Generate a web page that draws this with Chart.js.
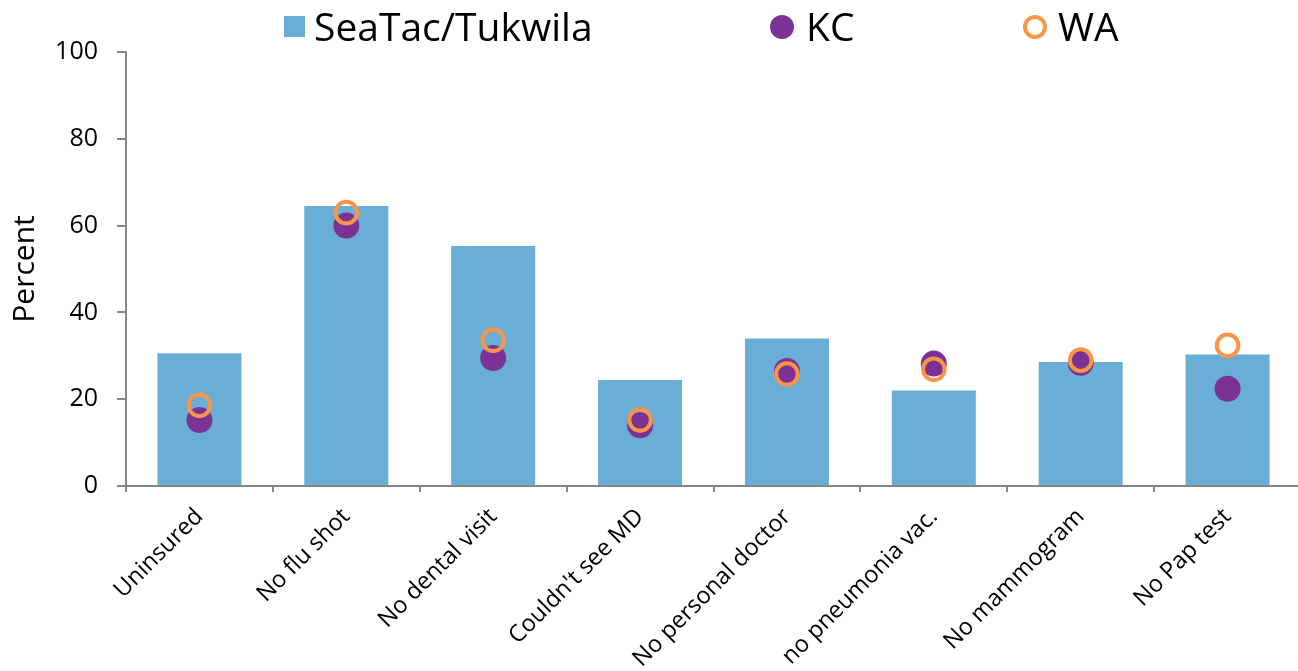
<!DOCTYPE html>
<html lang="en">
<head>
<meta charset="UTF-8">
<title>SeaTac/Tukwila vs KC vs WA</title>
<script src="https://cdn.jsdelivr.net/npm/chart.js"></script>
<style>
  html, body { margin: 0; padding: 0; background: #fff; overflow: hidden; }
  #wrap { position: relative; width: 1301px; height: 671px; }
  .leg { position: absolute; font-family: "Open Sans", sans-serif; font-size: 39px; line-height: 39px; color: #000; white-space: nowrap; }
  .mk { position: absolute; box-sizing: border-box; }
</style>
</head>
<body>
<div id="wrap">
  <div class="mk" style="left:284px;top:16px;width:21px;height:21px;background:#6aaed6;"></div>
  <div class="leg" style="left:314px;top:6px;">SeaTac/Tukwila</div>
  <div class="mk" style="left:770px;top:15px;width:24px;height:24px;border-radius:50%;background:#7b3294;"></div>
  <div class="leg" style="left:806px;top:6px;">KC</div>
  <div class="mk" style="left:1023px;top:15px;width:24px;height:24px;border-radius:50%;border:4px solid #f79646;"></div>
  <div class="leg" style="left:1058px;top:6px;">WA</div>
  <canvas id="grafico" width="1301" height="671"></canvas>
</div>

<script>
  const categorias = ['Uninsured', 'No flu shot', 'No dental visit', "Couldn't see MD",
    'No personal doctor', 'no pneumonia vac.', 'No mammogram', 'No Pap test'];
  const seatac = [30.6, 64.5, 55.3, 24.4, 34.0, 22.0, 28.6, 30.3];
  const kc = [15.2, 60.0, 29.5, 14.0, 26.5, 28.2, 28.4, 22.4];
  const wa = [18.6, 63.0, 33.6, 15.2, 25.8, 26.9, 29.0, 32.4];
  const ticksY = [0, 20, 40, 60, 80, 100];

  const gris = '#868686';

  const ctx = document.getElementById('grafico').getContext('2d');
  new Chart(ctx, {
    data: {
      labels: categorias,
      datasets: [
        {
          type: 'line',
          label: 'WA',
          data: wa,
          showLine: false,
          pointRadius: 10.8,
          pointBorderWidth: 4,
          pointBorderColor: '#f79646',
          pointBackgroundColor: 'rgba(0,0,0,0)',
          order: 1
        },
        {
          type: 'line',
          label: 'KC',
          data: kc,
          showLine: false,
          pointRadius: 13,
          pointBorderWidth: 0,
          pointBackgroundColor: '#7b3294',
          order: 2
        },
        {
          type: 'bar',
          label: 'SeaTac/Tukwila',
          data: seatac,
          backgroundColor: '#6aaed6',
          categoryPercentage: 1,
          barPercentage: 0.572,
          order: 3
        }
      ]
    },
    options: {
      responsive: false,
      animation: false,
      layout: { autoPadding: false, padding: { top: 52, left: 0, right: 0, bottom: 0 } },
      plugins: {
        legend: { display: false },
        tooltip: { enabled: false }
      },
      scales: {
        x: {
          afterFit: (s) => { s.height = 185; s.paddingRight = 0; s.paddingLeft = 0; },
          border: { display: true, color: gris, width: 2 },
          grid: { drawOnChartArea: false, drawTicks: true, tickLength: 6, color: gris, lineWidth: 2, offset: true },
          ticks: {
            autoSkip: false,
            minRotation: 45,
            maxRotation: 45,
            padding: 11,
            color: '#000',
            font: { family: 'Open Sans', size: 23.5 }
          }
        },
        y: {
          min: 0,
          max: 100,
          afterFit: (s) => { s.width = 126; },
          afterBuildTicks: (s) => { s.ticks = ticksY.map(v => ({ value: v })); },
          border: { display: true, color: gris, width: 2 },
          grid: { drawOnChartArea: false, drawTicks: true, tickLength: 9, color: gris, lineWidth: 2 },
          ticks: {
            padding: 19,
            color: '#000',
            font: { family: 'Open Sans', size: 25 }
          },
          title: {
            display: true,
            text: 'Percent',
            color: '#000',
            font: { family: 'Open Sans', size: 30 },
            padding: { top: 7 }
          }
        }
      }
    }
  });
</script>
</body>
</html>
